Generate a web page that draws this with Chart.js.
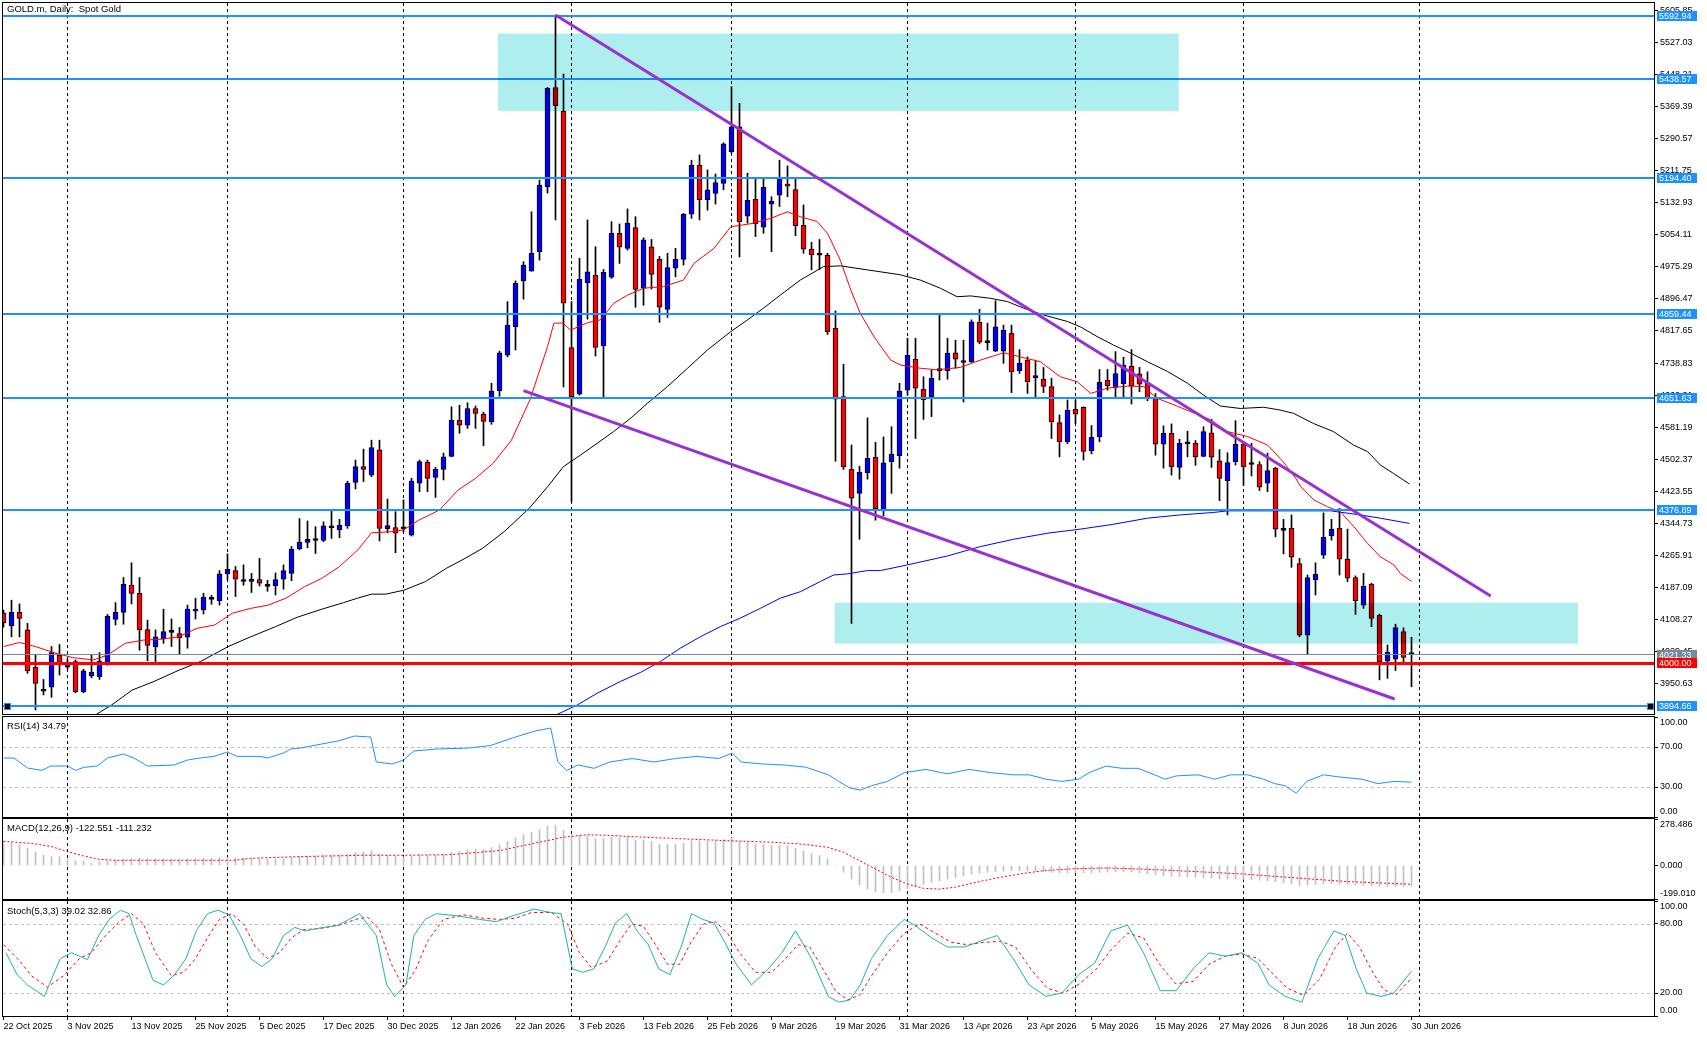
<!DOCTYPE html>
<html><head><meta charset="utf-8">
<script src="https://cdn.jsdelivr.net/npm/chart.js@4.4.1/dist/chart.umd.min.js"></script>
<style>
body{margin:0;background:#fff;width:1707px;height:1037px;overflow:hidden;}
canvas{position:absolute;left:0;}
</style></head>
<body>
<canvas id="cMain" width="1707" height="716" style="top:0px"></canvas>
<canvas id="cRsi" width="1707" height="102" style="top:716px"></canvas>
<canvas id="cMacd" width="1707" height="82" style="top:818px"></canvas>
<canvas id="cSto" width="1707" height="137" style="top:900px"></canvas>
<script>
// ---------- data ----------
const tickLabels = ['22 Oct 2025','3 Nov 2025','13 Nov 2025','25 Nov 2025','5 Dec 2025','17 Dec 2025','30 Dec 2025','12 Jan 2026','22 Jan 2026','3 Feb 2026','13 Feb 2026','25 Feb 2026','9 Mar 2026','19 Mar 2026','31 Mar 2026','13 Apr 2026','23 Apr 2026','5 May 2026','15 May 2026','27 May 2026','8 Jun 2026','18 Jun 2026','30 Jun 2026'];
const tickIndex = [0,8,16,24,32,40,48,56,64,72,80,88,96,104,112,120,128,136,144,152,160,168,176];
const monthSeparators = [8,28,50,71,91,113,134,155,177];
const priceTicks = [5605.85,5527.03,5448.21,5369.39,5290.57,5211.75,5132.93,5054.11,4975.29,4896.47,4817.65,4738.83,4660.01,4581.19,4502.37,4423.55,4344.73,4265.91,4187.09,4108.27,4029.45,3950.63];

const opens = [4123.5,4092,4125,4082,3990,3932,3941,4020,3990,4004,
3930,3969,3967,3997,4108,4125,4192,4172,4083,4040,
4060,4076,4073,4064,4128,4131,4157,4154,4220,4228,
4202,4201,4206,4190,4191,4207,4221,4281,4297,4302,
4302,4334,4328,4338,4445,4484,4463,4525,4331,4334,
4331,4315,4443,4495,4457,4477,4509,4598,4586,4627,
4613,4594,4671,4758,4828,4941,4965,5012,5173,5417,
5359,4777,4662,4936,4955,4781,4950,5058,5021,5072,
4923,5025,4994,4871,4972,4994,5105,5226,5140,5156,
5181,5259,5320,5100,5142,5073,5130,5152,5179,5166,
5078,5019,5005,5004,4824,4656,4477,4418,4469,4507,
4375,4496,4511,4672,4748,4674,4656,4720,4720,4764,
4741,4742,4839,4790,4768,4768,4812,4720,4746,4702,
4699,4681,4592,4545,4625,4630,4523,4557,4697,4679,
4688,4731,4712,4690,4652,4539,4566,4482,4540,4541,
4509,4567,4498,4449,4496,4539,4490,4489,4443,4480,
4328,4332,4245,4069,4205,4266,4313,4332,4256,4211,
4143,4195,4118,4005,4010,4078,4022];
const highs = [4131,4155,4146,4098,4020,3960,4041,4046,4010,4008,
3985,4020,4026,4120,4149,4211,4247,4211,4106,4082,
4133,4109,4088,4143,4160,4172,4167,4228,4269,4238,
4242,4221,4258,4204,4222,4242,4287,4356,4350,4336,
4348,4375,4354,4448,4500,4527,4549,4549,4404,4373,
4402,4455,4500,4500,4482,4517,4631,4635,4641,4633,
4618,4689,4768,4890,4941,4988,5111,5189,5417,5595,
5450,4890,4997,5091,5025,4969,5087,5081,5118,5099,
5047,5043,5001,5009,5021,5107,5238,5251,5214,5204,
5281,5419,5378,5206,5191,5191,5148,5238,5224,5191,
5128,5036,5043,5009,4867,4736,4537,4485,4604,4544,
4557,4582,4689,4800,4800,4705,4722,4857,4800,4795,
4795,4845,4871,4837,4892,4832,4832,4772,4754,4746,
4728,4701,4611,4648,4648,4631,4585,4723,4723,4767,
4753,4772,4728,4717,4664,4584,4589,4551,4571,4548,
4582,4600,4526,4518,4597,4544,4541,4496,4517,4482,
4354,4365,4258,4217,4247,4370,4354,4381,4330,4215,
4221,4197,4121,4045,4096,4087,4064];
const lows = [4089,4065,4065,3975,3885,3922,3916,3971,3985,3927,
3927,3964,3960,3995,4094,4096,4146,4032,4006,4004,
4049,4041,4022,4037,4109,4121,4145,4143,4206,4164,
4192,4174,4190,4177,4168,4182,4203,4279,4284,4270,
4299,4307,4309,4332,4429,4447,4459,4301,4321,4272,
4323,4313,4422,4422,4408,4451,4508,4566,4578,4578,
4535,4588,4657,4754,4771,4896,4965,4992,5157,5091,
4680,4398,4660,4847,4756,4656,4947,4984,5017,4876,
4881,4921,4839,4851,4951,4980,5095,5091,5115,5130,
5165,5255,5000,5083,5050,5058,5013,5124,5148,5052,
5009,4968,4969,4809,4497,4477,4098,4305,4453,4352,
4363,4418,4480,4660,4553,4600,4607,4697,4699,4726,
4643,4740,4786,4771,4767,4738,4666,4713,4664,4656,
4666,4553,4508,4540,4590,4500,4515,4545,4672,4656,
4656,4638,4668,4646,4512,4480,4463,4453,4508,4487,
4508,4482,4400,4365,4488,4438,4461,4425,4422,4311,
4269,4236,4065,4023,4168,4258,4303,4217,4201,4120,
4135,4090,3959,3963,3982,4001,3942];
const closes = [4099,4125,4110,3981,3950,3931,4026,3996,4000,3930,
3981,3978,4005,4116,4126,4195,4172,4082,4044,4065,
4078,4077,4063,4133,4131,4162,4158,4220,4231,4207,
4201,4207,4197,4189,4206,4228,4281,4298,4305,4303,
4338,4333,4340,4443,4484,4477,4531,4332,4339,4320,
4332,4448,4496,4455,4477,4508,4598,4586,4627,4615,
4595,4670,4764,4832,4935,4980,5009,5177,5415,5372,
4886,4656,4945,4963,4777,4962,5058,5024,5083,4920,
5042,4957,4876,4974,4994,5105,5226,5140,5165,5183,
5278,5320,5087,5140,5081,5171,5137,5192,5174,5077,
5019,5005,5004,4816,4650,4484,4406,4470,4504,4380,
4493,4515,4670,4758,4677,4648,4701,4722,4763,4748,
4740,4840,4790,4789,4828,4820,4717,4738,4693,4708,
4681,4594,4545,4623,4613,4521,4556,4691,4683,4713,
4734,4682,4687,4652,4539,4566,4484,4541,4541,4508,
4570,4507,4455,4494,4539,4484,4489,4433,4474,4330,
4327,4261,4069,4211,4219,4310,4330,4256,4209,4154,
4190,4110,4004,4027,4088,4014,4021.33];

// moving averages: [bar index, price]
const maRed = [[0,4041],[2,4051],[4,4041],[6.3,4026],[8.6,4014],[11.2,4008],[13,4020],[15.2,4049],[17.5,4057],[19.7,4059],[21.9,4065],[24.2,4086],[26.4,4094],[28.6,4123],[30.9,4135],[33.1,4143],[35.3,4160],[37.6,4188],[39.8,4209],[42,4238],[44.3,4279],[46,4321],[48.7,4324],[50,4328],[51.9,4352],[54.5,4377],[56.8,4426],[59,4455],[61.2,4492],[63.5,4549],[65.8,4648],[68,4779],[68.8,4837],[69.9,4837],[70.9,4820],[73,4838],[74.6,4845],[76.3,4886],[78,4906],[80,4923],[82.5,4927],[85,4943],[86.3,4984],[88.8,5021],[90.9,5074],[93.8,5083],[95.9,5095],[98,5111],[99.6,5099],[101.7,5087],[103,5058],[104.6,4992],[105.9,4919],[107.1,4861],[108.8,4804],[110.9,4746],[112.1,4734],[114.6,4726],[116.7,4722],[119.6,4728],[122.1,4746],[125,4764],[127.1,4754],[129.6,4742],[132.1,4705],[134.2,4693],[135.9,4664],[138,4677],[140.5,4682],[142.5,4681],[144.2,4652],[146.3,4636],[148.4,4619],[150.9,4599],[153,4570],[155.5,4558],[158,4537],[160,4495],[161.5,4456],[162.1,4436],[163.8,4402],[165.5,4385],[167.1,4373],[168.8,4336],[170.5,4295],[172.1,4262],[173.8,4242],[174.6,4221],[176,4201]];
const maBlack = [[11.6,3874],[13.5,3897],[16.1,3934],[18.8,3955],[21.95,3983],[24.6,4004],[28.2,4042],[30.9,4065],[34,4090],[36.7,4113],[39.8,4133],[42.5,4149],[44.25,4160],[46,4170],[47.8,4170],[50.1,4180],[52.75,4201],[55.4,4234],[57.7,4258],[59.9,4283],[62.6,4324],[65.7,4381],[68,4434],[70,4484],[72.1,4512],[74.2,4541],[76.25,4570],[78.4,4603],[80.5,4640],[83,4681],[85.5,4726],[88,4771],[90.9,4816],[93,4845],[95,4874],[97.1,4906],[99.6,4943],[102.5,4976],[104.6,4978],[108,4968],[112.1,4956],[114.6,4943],[117.1,4923],[119.2,4902],[120.9,4904],[123.4,4898],[125.5,4890],[127.5,4874],[130,4857],[133,4841],[134.6,4828],[136.7,4804],[138.75,4783],[140.9,4763],[143,4742],[145.5,4718],[148,4689],[150,4660],[152.1,4633],[154.6,4627],[157.5,4630],[159.6,4623],[161.25,4615],[163.75,4590],[166.25,4570],[168.75,4537],[170.5,4521],[172.1,4488],[173.75,4467],[175.75,4441]];
const maBlue = [[69,3872],[71.7,3897],[74.2,3926],[77.1,3955],[79.6,3977],[82.1,4004],[84.6,4037],[87.1,4065],[89.6,4090],[92.1,4111],[94.6,4135],[97.1,4160],[99.6,4176],[102.1,4201],[103.75,4217],[105.5,4220],[108,4228],[109.6,4228],[113,4242],[118,4264],[122.1,4287],[126.25,4305],[130.5,4320],[134.6,4330],[138.75,4342],[143,4357],[147.1,4365],[151.25,4371],[153,4375],[161.5,4375],[165.9,4375],[169.6,4365],[172.1,4357],[175.75,4344]];

// horizontal levels, trend lines and zones
const blueLevels = [5592.94,5438.57,5194.40,4859.44,4651.63,4376.89,3894.66];
const supportLevel = 4000.00;
const lastPrice = 4021.33;
const trendUpper = [[69,5595.4],[185.9,4165.4]];
const trendLower = [[65,4670.7],[173.9,3912.0]];
const zoneTop = [61.8,146.9,5549.7,5359.2];
const zoneBottom = [103.9,196.8,4148.9,4048.0];

// RSI(14): [bar index, value]
const rsiPts = [[0,59],[1.3,59],[3,49],[4.8,46.6],[5.9,51],[8,51],[9,46.6],[10,49.6],[11.7,51],[13,59],[15,63],[16.3,59],[18,51],[21.3,52],[23,57],[24.6,59],[26.3,60.6],[28,65],[29.2,60.6],[32.1,60.6],[33,59],[35,64],[35.9,68],[37.1,69],[39.1,72],[41.8,76],[43.9,81],[45.9,80],[46.6,55],[48.6,53],[50,57],[51.3,66],[54.1,68],[58.2,69],[60.9,71.5],[63.6,79],[66.3,85.7],[68.4,89],[69.3,55],[70.4,46.5],[71.8,52],[73.8,48.7],[75.8,55],[78.6,58.5],[81.3,55],[84,58.5],[86.7,60.6],[89.4,58.5],[91.1,63.9],[92.2,55],[94.9,53],[97.6,52],[100.3,49.8],[103.1,42.2],[104.4,35.6],[105.8,29.1],[107.1,26.9],[108.5,31.3],[110.5,35.6],[112.6,44.3],[115.3,47.6],[118,43.2],[120.7,47.6],[123.5,44.3],[126.2,42.2],[128.2,42.2],[130.3,37.8],[132.3,35.6],[134.4,37.8],[135.7,44.3],[137.8,50.9],[139.8,48.7],[141.8,48.7],[143.9,42.2],[145.2,37.8],[146.6,41.1],[149.3,42.2],[151.4,37.8],[153.4,42.2],[155.5,42.2],[157.5,37.8],[158.9,33.4],[160.2,31.3],[161.6,23.7],[162.9,35.6],[165,42.2],[167,40],[169.8,37.8],[171.8,33.4],[173.8,35.6],[176,34.79]];

// MACD(12,26,9) main histogram, one value per bar
const macdHist = [145,140,124,105,83,64,54,54,38,30,
26,13,22,28,34,38,42,46,42,40,
40,38,36,40,42,44,44,48,50,48,
46,44,42,40,40,42,48,55,58,58,
62,62,62,70,78,82,90,70,62,56,
52,58,64,62,62,66,80,86,92,96,
96,108,124,144,166,184,200,216,236,240,
210,180,180,176,160,164,170,168,170,154,
154,144,128,128,126,134,150,148,148,148,
156,166,144,138,128,128,120,122,118,104,
88,72,60,40,0,-40,-80,-115,-140,-155,
-162,-160,-150,-138,-125,-112,-100,-90,-80,-70,
-60,-50,-45,-40,-36,-32,-30,-30,-32,-34,
-36,-40,-44,-44,-42,-42,-44,-40,-38,-36,
-36,-38,-42,-48,-54,-60,-64,-66,-68,-70,
-72,-74,-78,-80,-80,-82,-84,-86,-90,-96,
-102,-108,-118,-116,-112,-108,-106,-108,-112,-116,
-118,-120,-124,-126,-124,-123,-122.551];
const macdSignal = [[0,146],[3.8,131],[5.9,115],[8,84],[10,58],[12,38],[13.8,32],[28.8,32],[30.9,44],[37,54],[45,62],[50,62],[56,66],[62,90],[66,130],[70,170],[73,185],[76,180],[80,170],[90,150],[96,140],[100,128],[103,110],[105,80],[107,30],[109,-20],[111,-70],[113,-110],[115,-135],[117,-140],[119,-128],[121,-105],[124,-75],[127,-50],[130,-30],[134,-18],[138,-14],[142,-20],[148,-33],[155,-50],[162,-75],[168,-95],[176,-111.232]];

// Stochastic(5,3,3)
const stochK = [[0.3,55],[1.7,36],[3,27],[5.1,17],[5.7,27],[7.1,50],[8.5,55],[10.5,49],[11.9,70],[13.2,84],[14.6,92],[15.7,89],[16.6,70],[18.7,31],[20,27],[21.4,36],[22.8,50],[24.1,74],[25.5,89],[26.8,92],[28.2,88],[29.6,70],[30.9,50],[32.3,43],[33.6,50],[35,70],[36.4,77],[37.7,74],[39.1,76],[41.8,79],[43.2,84],[44.5,89],[46.6,70],[47.9,27],[48.9,17],[50.3,27],[51.3,70],[52.7,84],[54.1,89],[56.8,87],[59.5,84],[61.6,82],[63.6,87],[65,90],[66.3,93],[68.4,90],[69.7,89],[71.1,41],[72.4,38],[73.8,41],[75.2,60],[76.5,81],[77.9,89],[79.2,74],[80.6,62],[81.9,41],[83.3,36],[84.7,60],[86,89],[87.4,84],[88.8,81],[90.1,65],[91.5,46],[93.5,27],[95.6,41],[97.3,55],[99,74],[101,50],[103.1,17],[104.4,12],[105.8,14],[107.1,27],[108.5,50],[110.5,70],[112.6,84],[113.9,79],[116,68],[118,60],[120.1,60],[122.1,65],[124.2,70],[126.2,50],[128.2,27],[130.3,17],[132.3,20],[134.4,36],[136.4,46],[138.4,74],[140.5,79],[142.5,55],[144.6,22],[146.6,22],[148.7,41],[150.7,55],[152.7,52],[154.8,55],[156.8,46],[158.2,27],[160.2,17],[162.3,12],[164.3,50],[166.3,74],[167.7,70],[169.1,41],[170.4,20],[172.2,17],[173.8,20],[176,39.02]];
const stochD = [[0,62],[2,48],[3.5,35],[5.5,25],[7.5,35],[9.5,50],[11,55],[12.5,68],[14.5,82],[16,89],[17.5,80],[19,55],[21,35],[22.5,38],[24,50],[25.5,68],[27,84],[28.5,89],[30,80],[31.5,60],[33,50],[34.5,55],[36,68],[37.5,75],[39.5,76],[42,79],[44,84],[45.5,86],[47,75],[48.5,45],[50,25],[51.5,40],[53,65],[55,84],[57.5,88],[60,85],[62,84],[64,85],[66,90],[68.5,90],[70.5,80],[72,55],[73.5,42],[75.5,48],[77,65],[78.5,80],[80,78],[81.5,62],[83,45],[84.5,45],[86,65],[87.5,80],[89,82],[90.5,72],[92,55],[94,38],[96,38],[97.5,48],[99.3,62],[100.8,60],[102.5,40],[104,22],[105.5,14],[107,18],[108.5,35],[110.5,55],[112.6,72],[114.5,80],[116.5,72],[118.5,64],[120.5,62],[122.5,64],[124.6,65],[126.5,60],[128.5,40],[130.5,24],[132.5,20],[134.5,28],[136.5,40],[138.5,58],[140.5,72],[142.5,68],[144.5,45],[146.5,28],[148.7,30],[150.7,45],[152.7,52],[154.8,54],[156.8,50],[158.5,38],[160.5,24],[162.5,18],[164.5,32],[166.5,60],[168,72],[169.5,60],[171,40],[172.5,23],[174,18],[176,32.86]];

// ---------- helpers ----------
const FAM = '"Liberation Sans", Arial, sans-serif';
const F9 = '9px ' + FAM;
const F95 = '9.5px ' + FAM;
const X_MIN = -0.0625, X_MAX = X_MIN + 1651/8;
const pts = arr => arr.map(p => ({x:p[0], y:p[1]}));

function xScale(show){
  const s = {type:'linear', min:X_MIN, max:X_MAX, display:show, offset:false,
    grid:{drawOnChartArea:false, tickLength:4, color:'#000'}, border:{display:false}};
  if (show){
    s.afterBuildTicks = sc => { sc.ticks = tickIndex.map(v => ({value:v})); };
    s.afterFit = sc => { sc.height = 21; sc.paddingLeft = 0; sc.paddingRight = 0; };
    s.ticks = {autoSkip:false, maxRotation:0, align:'start', padding:1, color:'#000',
      font:{family:FAM, size:9}, callback:(v,i) => tickLabels[i]};
  }
  return s;
}
function yScale(min, max, tickVals, showLabels, fmt){
  return {type:'linear', position:'right', min, max,
    afterBuildTicks: sc => { sc.ticks = tickVals.map(v => ({value:v})); },
    afterFit: sc => { sc.width = 53; sc.paddingTop = 0; sc.paddingBottom = 0; },
    ticks:{display:showLabels, autoSkip:false, padding:2, color:'#000', font:{family:FAM, size:9},
      callback: v => fmt ? fmt(v) : v},
    grid:{drawOnChartArea:false, tickLength:4, color:'#000'}, border:{display:false}};
}
function drawSeparators(chart){
  const {ctx, chartArea:a, scales:{x}} = chart;
  ctx.save(); ctx.strokeStyle = '#000'; ctx.lineWidth = 1; ctx.setLineDash([3,3]);
  monthSeparators.forEach(i => {
    const px = x.getPixelForValue(i);
    if (px < a.left || px > a.right) return;
    ctx.beginPath(); ctx.moveTo(px, a.top); ctx.lineTo(px, a.bottom); ctx.stroke();
  });
  ctx.restore();
}
function drawLevels(chart, vals){
  const {ctx, chartArea:a, scales:{y}} = chart;
  ctx.save(); ctx.strokeStyle = '#C0C0C0'; ctx.lineWidth = 1; ctx.setLineDash([3,3]);
  vals.forEach(v => { const py = Math.round(y.getPixelForValue(v)) + 0.5;
    ctx.beginPath(); ctx.moveTo(a.left, py); ctx.lineTo(a.right, py); ctx.stroke(); });
  ctx.restore();
}
function drawFrame(chart){
  const {ctx, chartArea:a} = chart;
  ctx.save(); ctx.strokeStyle = '#000'; ctx.lineWidth = 1;
  ctx.strokeRect(a.left - 0.5, a.top - 0.5, a.right - a.left + 1, a.bottom - a.top + 1);
  ctx.restore();
}
function drawSideLabels(chart, items){
  const {ctx, chartArea:a, scales:{y}} = chart;
  ctx.save(); ctx.fillStyle = '#000'; ctx.font = F9; ctx.textBaseline = 'middle'; ctx.textAlign = 'left';
  items.forEach(([v, txt]) => {
    let py = y.getPixelForValue(v);
    py = Math.min(Math.max(py, a.top + 5.5), a.bottom - 5.5);
    ctx.fillText(txt, a.right + 6, py);
  });
  ctx.restore();
}
function drawCaption(chart, txt, yy){
  const {ctx, chartArea:a} = chart;
  ctx.save(); ctx.fillStyle = '#000'; ctx.font = F95; ctx.textBaseline = 'middle'; ctx.textAlign = 'left';
  ctx.fillText(txt, a.left + 4, a.top + yy); ctx.restore();
}
const whiteBg = {id:'whiteBg', beforeDraw(c){ const ctx=c.ctx; ctx.save(); ctx.fillStyle='#fff'; ctx.fillRect(0,0,c.width,c.height); ctx.restore(); }};
const baseOpts = (padding, scales) => ({responsive:false, animation:false, devicePixelRatio:1,
  layout:{padding}, plugins:{legend:{display:false}, tooltip:{enabled:false}}, scales, events:[]});

// ---------- main price chart ----------
const bodyColors = opens.map((o,i) => Math.abs(closes[i]-o) < 2.5 ? '#000000' : (closes[i] > o ? '#0000FF' : '#FF0000'));
const mainDeco = {
  id:'mainDeco',
  beforeDatasetsDraw(chart){ drawSeparators(chart); },
  afterDatasetsDraw(chart){
    const {ctx, chartArea:a, scales:{x, y}} = chart;
    ctx.save();
    ctx.beginPath(); ctx.rect(a.left, a.top, a.right - a.left, a.bottom - a.top); ctx.clip();
    const hline = (v, col, w) => { const py = y.getPixelForValue(v); ctx.fillStyle = col;
      ctx.fillRect(a.left, Math.round(py - w/2), a.right - a.left, w); };
    blueLevels.forEach(v => hline(v, '#1E90FF', 2));
    hline(lastPrice, '#778899', 1);
    hline(supportLevel, '#FF0000', 3);
    ctx.globalCompositeOperation = 'multiply';
    ctx.fillStyle = '#AFEEEE';
    [zoneTop, zoneBottom].forEach(z => {
      const x0 = x.getPixelForValue(z[0]), x1 = x.getPixelForValue(z[1]);
      const y0 = y.getPixelForValue(z[2]), y1 = y.getPixelForValue(z[3]);
      ctx.fillRect(x0, y0, x1 - x0, y1 - y0);
    });
    ctx.globalCompositeOperation = 'source-over';
    ctx.strokeStyle = '#9932CC'; ctx.lineWidth = 3;
    [trendUpper, trendLower].forEach(t => {
      ctx.beginPath();
      ctx.moveTo(x.getPixelForValue(t[0][0]), y.getPixelForValue(t[0][1]));
      ctx.lineTo(x.getPixelForValue(t[1][0]), y.getPixelForValue(t[1][1]));
      ctx.stroke();
    });
    // selection handles on the 3894.66 line
    const hy = Math.round(y.getPixelForValue(blueLevels[6]));
    [[a.left + 1, hy - 3],[a.right - 7, hy - 3]].forEach(([hx, hy2]) => {
      ctx.fillStyle = '#1E90FF'; ctx.fillRect(hx, hy2, 7, 7);
      ctx.fillStyle = '#000'; ctx.fillRect(hx + 1, hy2 + 1, 5, 5);
    });
    ctx.restore();
  },
  afterDraw(chart){
    const {ctx, chartArea:a, scales:{y}} = chart;
    drawFrame(chart);
    ctx.save();
    ctx.fillStyle = '#000'; ctx.font = F95; ctx.textBaseline = 'middle';
    ctx.fillText('GOLD.m, Daily:  Spot Gold', a.left + 4, a.top + 6.5);
    const box = (v, col) => {
      const py = Math.round(y.getPixelForValue(v));
      ctx.fillStyle = col; ctx.fillRect(a.right + 3, py - 5, 40, 10);
      ctx.fillStyle = '#fff'; ctx.font = F9; ctx.textBaseline = 'middle';
      ctx.fillText(v.toFixed(2), a.right + 5, py + 0.5);
    };
    blueLevels.forEach(v => box(v, '#1E90FF'));
    box(lastPrice, '#778899');
    box(supportLevel, '#FF0000');
    ctx.restore();
  }
};
new Chart(document.getElementById('cMain'), {
  type:'bar',
  data:{datasets:[
    {type:'line', data:pts(maRed), borderColor:'#FF0000', borderWidth:1, pointRadius:0, tension:0, order:0},
    {type:'line', data:pts(maBlack), borderColor:'#000000', borderWidth:1, pointRadius:0, tension:0, order:0},
    {type:'line', data:pts(maBlue), borderColor:'#0000FF', borderWidth:1, pointRadius:0, tension:0, order:0},
    {type:'bar', data:opens.map((o,i) => ({x:i, y:[o, closes[i]]})), backgroundColor:bodyColors,
      borderColor:'#000', borderWidth:1, borderSkipped:false, barThickness:5, minBarLength:2, grouped:false, order:1},
    {type:'bar', data:lows.map((l,i) => ({x:i, y:[l, highs[i]]})), backgroundColor:'#000',
      borderWidth:0, barThickness:1, grouped:false, order:2}
  ]},
  options: baseOpts({left:3, top:3, right:0, bottom:2}, {
    x: xScale(false),
    y: yScale(3875.0, 5624.9, priceTicks, true, v => v.toFixed(2))
  }),
  plugins:[whiteBg, mainDeco]
});

// ---------- RSI ----------
new Chart(document.getElementById('cRsi'), {
  type:'line',
  data:{datasets:[{data:pts(rsiPts), borderColor:'#1E90FF', borderWidth:1, pointRadius:0, tension:0}]},
  options: baseOpts({left:3, top:1, right:0, bottom:1}, {x:xScale(false), y:yScale(0, 100, [0,30,70,100], false)}),
  plugins:[whiteBg, {id:'rsiDeco',
    beforeDatasetsDraw(c){ drawSeparators(c); drawLevels(c, [70,30]); },
    afterDraw(c){ drawFrame(c); drawCaption(c, 'RSI(14) 34.79', 9.5);
      drawSideLabels(c, [[100,'100.00'],[70,'70.00'],[30,'30.00'],[0,'0.00']]); }}]
});

// ---------- MACD ----------
new Chart(document.getElementById('cMacd'), {
  type:'bar',
  data:{datasets:[
    {type:'line', data:pts(macdSignal), borderColor:'#FF0000', borderWidth:1, borderDash:[2,2], pointRadius:0, tension:0, order:0},
    {type:'bar', data:macdHist.map((v,i) => ({x:i, y:v})), backgroundColor:'#C0C0C0', barThickness:1, grouped:false, order:1}
  ]},
  options: baseOpts({left:3, top:1, right:0, bottom:1}, {x:xScale(false), y:yScale(-199.010, 278.486, [-199.010, 0, 278.486], false)}),
  plugins:[whiteBg, {id:'macdDeco',
    beforeDatasetsDraw(c){ drawSeparators(c); },
    afterDraw(c){ drawFrame(c); drawCaption(c, 'MACD(12,26,9) -122.551 -111.232', 9.5);
      drawSideLabels(c, [[278.486,'278.486'],[0,'0.000'],[-199.010,'-199.010']]); }}]
});

// ---------- Stochastic ----------
new Chart(document.getElementById('cSto'), {
  type:'line',
  data:{datasets:[
    {data:pts(stochK), borderColor:'#20B2AA', borderWidth:1, pointRadius:0, tension:0},
    {data:pts(stochD), borderColor:'#FF0000', borderWidth:1, borderDash:[3,3], pointRadius:0, tension:0}
  ]},
  options: baseOpts({left:3, top:1, right:0, bottom:0}, {x:xScale(true), y:yScale(0, 100, [0,20,80,100], false)}),
  plugins:[whiteBg, {id:'stoDeco',
    beforeDatasetsDraw(c){ drawSeparators(c); drawLevels(c, [80,20]); },
    afterDraw(c){ drawFrame(c); drawCaption(c, 'Stoch(5,3,3) 39.02 32.86', 10);
      drawSideLabels(c, [[100,'100.00'],[80,'80.00'],[20,'20.00'],[0,'0.00']]); }}]
});
</script>
</body></html>
